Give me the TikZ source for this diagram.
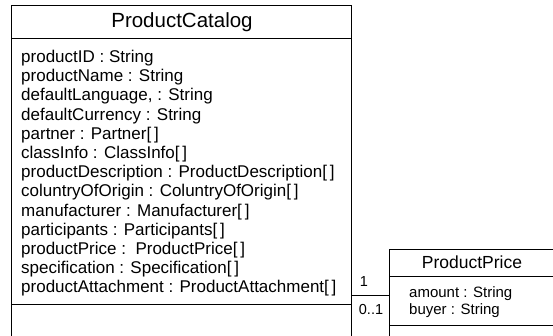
\documentclass[tikz,border=0pt]{standalone}
\usepackage{fontspec}
\setmainfont{Liberation Sans}
\begin{document}
\begin{tikzpicture}[x=1pt,y=-1pt,
  box/.style={draw,line width=1pt,inner sep=0pt,anchor=north west},
  sepline/.style={line width=1pt},
  conn/.style={line width=0.9pt},
  attr/.style={anchor=base west,inner sep=0pt,font=\fontsize{17}{19}\selectfont},
  pattr/.style={anchor=base west,inner sep=0pt,font=\fontsize{15}{17}\selectfont},
  ctitle/.style={inner sep=0pt,font=\fontsize{20.5}{22}\selectfont},
  ptitle/.style={inner sep=0pt,font=\fontsize{17.5}{19}\selectfont},
  mult/.style={inner sep=0pt,font=\fontsize{14.5}{16}\selectfont}]
\useasboundingbox (0,0) rectangle (553,336);
\clip (0,0) rectangle (553,336);
% ProductCatalog
\node[box,minimum width=340pt,minimum height=340pt] (pc) at (11,5) {};
\draw[sepline] (11,39) coordinate (pcs1l) -- (351,39) coordinate (pcs1r);
\draw[sepline] (11,304) coordinate (pcs2l) -- (351,304) coordinate (pcs2r);
\node[ctitle] (pct) at (182,22) {ProductCatalog};
\foreach \t [count=\i] in {
  productID : String,
  productName : String,
  {defaultLanguage, : String},
  defaultCurrency : String,
  partner : Partner[\,],
  classInfo : ClassInfo[\,],
  productDescription : ProductDescription[\,],
  coluntryOfOrigin : ColuntryOfOrigin[\,],
  manufacturer : Manufacturer[\,],
  participants : Participants[\,],
  productPrice :\ \ ProductPrice[\,],
  specification : Specification[\,],
  productAttachment : ProductAttachment[\,]}
  \node[attr] (a\i) at (21,{62.5+(\i-1)*19.2}) {\t};
% ProductPrice
\node[box,minimum width=170pt,minimum height=100pt] (pp) at (389,249) {};
\draw[sepline] (389,276) coordinate (pps1l) -- (560,276) coordinate (pps1r);
\draw[sepline] (389,325) coordinate (pps2l) -- (560,325) coordinate (pps2r);
\node[ptitle] (ppt) at (472,262.5) {ProductPrice};
\node[pattr] (b1) at (409,297) {amount : String};
\node[pattr] (b2) at (409,314) {buyer : String};
% association
\draw[conn] (pc.north east |- 0,295) -- (pp.north west |- 0,295);
\node[mult] (m1) at (364,282) {1};
\node[mult] (m2) at (371,310) {0..1};
\end{tikzpicture}
\end{document}
